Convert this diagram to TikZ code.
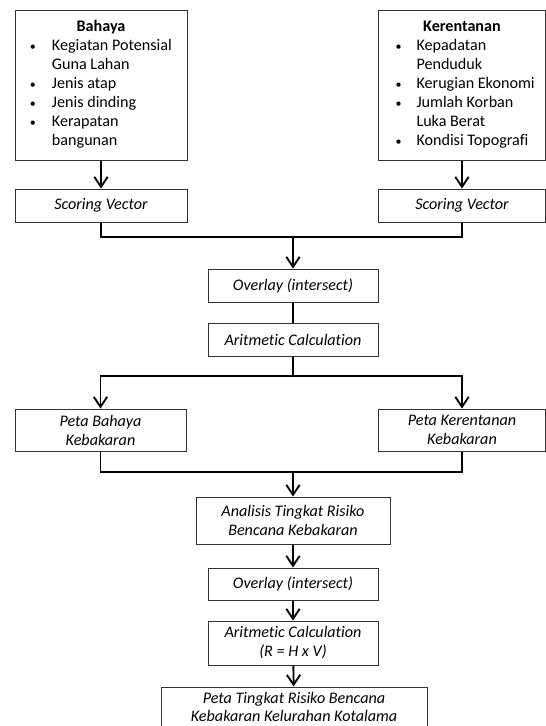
\documentclass[tikz,border=0pt]{standalone}
\usepackage{fontspec}
\setmainfont{Carlito}[Ligatures=NoCommon]
\usetikzlibrary{arrows.meta}
\begin{document}
\begin{tikzpicture}[x=0.75pt,y=-0.75pt,
  box/.style={draw=black!80, line width=0.75pt, inner sep=0pt, align=center, font=\fontsize{12.1}{14.25}\selectfont\itshape},
  listbox/.style={draw=black!80, line width=0.75pt, inner sep=0pt, font=\fontsize{12.1}{14.25}\selectfont},
  link/.style={line width=1.4pt, line join=miter},
  conn/.style={link, -{Straight Barb[length=7.5pt,width=10pt]}}
]
\useasboundingbox (0,0) rectangle (546,726);
\clip (0,0) rectangle (546,726);

% top list boxes
\node[listbox, minimum width=129pt, minimum height=112.5pt] (bahaya) at (101,85) {%
\begin{tabular}{@{\hspace{11.25pt}}p{16.5pt}@{}p{101.25pt}@{}}
\multicolumn{2}{@{}c@{}}{\textbf{Bahaya}}\\
{\small\textbullet} & Kegiatan Potensial\\
 & Guna Lahan\\
{\small\textbullet} & Jenis atap\\
{\small\textbullet} & Jenis dinding\\
{\small\textbullet} & Kerapatan\\
 & bangunan
\end{tabular}};
\node[listbox, minimum width=125.25pt, minimum height=112.5pt] (keren) at (462,85) {%
\begin{tabular}{@{\hspace{12.75pt}}p{15.75pt}@{}p{96.75pt}@{}}
\multicolumn{2}{@{}c@{}}{\textbf{Kerentanan}}\\
{\small\textbullet} & Kepadatan\\
 & Penduduk\\
{\small\textbullet} & Kerugian Ekonomi\\
{\small\textbullet} & Jumlah Korban\\
 & Luka Berat\\
{\small\textbullet} & Kondisi Topografi
\end{tabular}};

% process boxes
\node[box, minimum width=129pt, minimum height=24.75pt] (sv1) at (101,205.5) {Scoring Vector};
\node[box, minimum width=125.25pt, minimum height=24.75pt] (sv2) at (462,205.5) {Scoring Vector};
\node[box, minimum width=127.5pt, minimum height=24.75pt] (ov1) at (293,285.5) {Overlay (intersect)};
\node[box, minimum width=127.5pt, minimum height=24.75pt] (ar1) at (293,339.5) {Aritmetic Calculation};
\node[box, minimum width=128.25pt, minimum height=31.5pt] (pb) at (100.5,430) {Peta Bahaya\\Kebakaran};
\node[box, minimum width=125.25pt, minimum height=31.5pt] (pk) at (462,430) {Peta Kerentanan\\Kebakaran};
\node[box, minimum width=145.5pt, minimum height=35.25pt] (an) at (293,520.5) {Analisis Tingkat Risiko\\Bencana Kebakaran};
\node[box, minimum width=127.5pt, minimum height=24pt] (ov2) at (293,584) {Overlay (intersect)};
\node[box, minimum width=127.5pt, minimum height=33pt] (ar2) at (293,643) {Aritmetic Calculation\\(R = H x V)};
\node[box, minimum width=199.5pt, minimum height=30pt, font=\fontsize{12.1}{13.5}\selectfont\itshape] (fin) at (294,707) {Peta Tingkat Risiko Bencana\\Kebakaran Kelurahan Kotalama};

% junction coordinates
\coordinate (m1) at (293,237);
\coordinate (s1) at (293,376);
\coordinate (m2) at (293,472);

% connectors
\draw[conn] (bahaya) -- (sv1);
\draw[conn] (keren) -- (sv2);
\draw[link] (sv1.south) |- (m1) -| (sv2.south);
\draw[conn] (m1) -- (ov1);
\draw[link] (ov1) -- (ar1);
\draw[link] (ar1) -- (s1);
\draw[conn] (s1) -| (pb.north);
\draw[conn] (s1) -| (pk.north);
\draw[link] (pb.south) |- (m2) -| (pk.south);
\draw[conn] (m2) -- (an);
\draw[conn] (an) -- (ov2);
\draw[conn] (ov2) -- (ar2);
\draw[conn] (ar2) -- (fin);
\end{tikzpicture}
\end{document}
